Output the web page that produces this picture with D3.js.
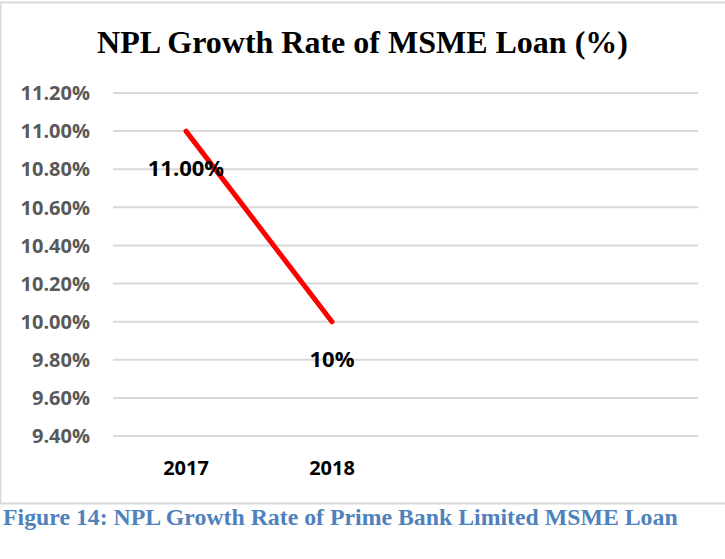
<!DOCTYPE html>
<html>
<head>
<meta charset="utf-8">
<script src="https://cdn.jsdelivr.net/npm/d3@7"></script>
<style>
    body { margin: 0; background: #fff; }
</style>
</head>
<body>
<div class="canvas"></div>
<script>
//chart data
const years = ['2017', '2018'];
const rates = [11.00, 10.00];
const rateLabels = ['11.00%', '10%'];
const yTicks = [9.4, 9.6, 9.8, 10.0, 10.2, 10.4, 10.6, 10.8, 11.0, 11.2];

//chart dimensions
const dims = {
    width: 725,
    height: 559,
    left: 113,
    right: 697,
    top: 93,
    bottom: 436
}

//create svg container
const svg = d3.select('.canvas')
    .append('svg')
    .attr('width', dims.width)
    .attr('height', dims.height);

//chart area border (right side runs off the page)
svg.append('rect')
    .attr('x', 0.5)
    .attr('y', 2.5)
    .attr('width', 760)
    .attr('height', 501)
    .attr('fill', 'none')
    .attr('stroke', '#d9d9d9')
    .attr('stroke-width', 2);

//title
svg.append('text')
    .attr('x', 362.5)
    .attr('y', 53)
    .attr('text-anchor', 'middle')
    .attr('font-family', '"Liberation Serif", "Times New Roman", serif')
    .attr('font-weight', 'bold')
    .attr('font-size', 32)
    .attr('fill', '#000')
    .text('NPL Growth Rate of MSME Loan (%)');

//scales - four category slots, only two are used
const x = d3.scaleBand()
    .domain([...years, 'slot3', 'slot4'])
    .range([dims.left, dims.right]);

const y = d3.scaleLinear()
    .domain([9.4, 11.2])
    .range([dims.bottom, dims.top]);

const cx = d => x(d) + x.bandwidth() / 2;

//gridlines
svg.append('g')
    .selectAll('line')
    .data(yTicks)
    .enter()
    .append('line')
        .attr('x1', dims.left)
        .attr('x2', dims.right + 1)
        .attr('y1', d => y(d))
        .attr('y2', d => y(d))
        .attr('stroke', '#d9d9d9')
        .attr('stroke-width', 2);

const labelFont = '"Open Sans", Calibri, Carlito, sans-serif';

//y tick labels
svg.append('g')
    .selectAll('text')
    .data(yTicks)
    .enter()
    .append('text')
        .attr('x', 90)
        .attr('y', d => y(d))
        .attr('dy', '0.36em')
        .attr('text-anchor', 'end')
        .attr('font-family', labelFont)
        .attr('font-weight', 'bold')
        .attr('font-size', 20)
        .attr('fill', '#595959')
        .text(d => d.toFixed(2) + '%');

//x labels
svg.append('g')
    .selectAll('text')
    .data(years)
    .enter()
    .append('text')
        .attr('x', d => cx(d))
        .attr('y', 475)
        .attr('text-anchor', 'middle')
        .attr('font-family', labelFont)
        .attr('font-weight', 'bold')
        .attr('font-size', 20)
        .attr('fill', '#000')
        .text(d => d);

//line
const line = d3.line()
    .x((d, i) => cx(years[i]))
    .y(d => y(d));

svg.append('path')
    .datum(rates)
    .attr('d', line)
    .attr('fill', 'none')
    .attr('stroke', '#ff0000')
    .attr('stroke-width', 5)
    .attr('stroke-linecap', 'round');

//data labels below each point
svg.append('g')
    .selectAll('text')
    .data(rates)
    .enter()
    .append('text')
        .attr('x', (d, i) => cx(years[i]))
        .attr('y', d => y(d) + 45)
        .attr('text-anchor', 'middle')
        .attr('font-family', labelFont)
        .attr('font-weight', 'bold')
        .attr('font-size', 22)
        .attr('fill', '#000')
        .text((d, i) => rateLabels[i]);

//figure caption
svg.append('text')
    .attr('x', 3)
    .attr('y', 525)
    .attr('font-family', '"Liberation Serif", "Times New Roman", serif')
    .attr('font-weight', 'bold')
    .attr('font-size', 23.8)
    .attr('fill', '#4f81bd')
    .text('Figure 14: NPL Growth Rate of Prime Bank Limited MSME Loan');
</script>
</body>
</html>
